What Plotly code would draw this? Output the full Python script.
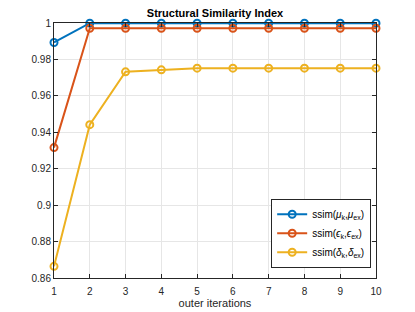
import plotly.graph_objects as go

iterations = [1, 2, 3, 4, 5, 6, 7, 8, 9, 10]
ssim_mu = [0.9893, 0.9999, 0.9999, 0.9999, 0.9999, 0.9999, 0.9999, 0.9999, 0.9999, 0.9999]
ssim_eps = [0.9316, 0.9971, 0.9971, 0.9971, 0.9971, 0.9971, 0.9971, 0.9971, 0.9971, 0.9971]
ssim_delta = [0.8664, 0.9442, 0.9732, 0.9743, 0.9752, 0.9752, 0.9752, 0.9752, 0.9752, 0.9752]

names = [
    "ssim(<i>μ</i><sub>k</sub>,<i>μ</i><sub>ex</sub>)",
    "ssim(<i>ϵ</i><sub>k</sub>,<i>ϵ</i><sub>ex</sub>)",
    "ssim(<i>δ</i><sub>k</sub>,<i>δ</i><sub>ex</sub>)",
]
colors = ["#0072BD", "#D95319", "#EDB120"]
series = [ssim_mu, ssim_eps, ssim_delta]

fig = go.Figure()
for name, col, ys in zip(names, colors, series):
    fig.add_trace(go.Scatter(
        x=iterations, y=ys, name=name, mode="lines+markers",
        line=dict(color=col, width=2),
        marker=dict(symbol="circle-open", size=7, color=col, line=dict(width=2, color=col)),
        cliponaxis=False,
    ))

axis_common = dict(
    showline=True, linecolor="#262626", linewidth=1, mirror="ticks",
    ticks="inside", ticklen=4, tickcolor="#262626",
    showgrid=True, gridcolor="#e6e6e6", gridwidth=1, zeroline=False,
    tickfont=dict(size=10, color="#262626"),
)
fig.update_xaxes(range=[1, 10], dtick=1, tick0=1, ticklabelstandoff=4,
                 title=dict(text="outer iterations", font=dict(size=11, color="#262626"), standoff=0),
                 **axis_common)
fig.update_yaxes(range=[0.86, 1.0], dtick=0.02, tick0=0.86, tickformat="~g", **axis_common)

fig.update_layout(
    width=407, height=304,
    margin=dict(l=46, r=39, t=15, b=34, autoexpand=False),
    paper_bgcolor="white", plot_bgcolor="white",
    font=dict(family="Liberation Sans, Arial, sans-serif", color="#262626"),
    title=dict(text="<b>Structural Similarity Index</b>", x=0.5, xanchor="center",
               xref="paper", yref="container", y=1 - 5.0 / 304, yanchor="middle",
               font=dict(size=11, color="black")),
    legend=dict(x=0.985, y=0.04, xanchor="right", yanchor="bottom",
                bgcolor="white", bordercolor="#262626", borderwidth=1,
                font=dict(size=10, color="black"), tracegroupgap=0),
    showlegend=True,
)

fig.write_html("out.html")
